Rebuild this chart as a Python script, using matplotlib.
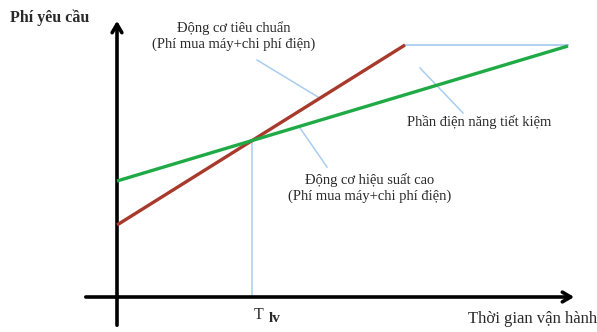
import matplotlib
matplotlib.use("Agg")
import matplotlib.pyplot as plt

# Data (schematic units; origin at axes crossing)
std_x = [0, 288]          # standard motor: purchase + electricity cost
std_y = [72, 252]
eff_x = [0, 451]          # high-efficiency motor
eff_y = [116, 251]
saving_x = [288, 451]     # energy saving gap
saving_y = [252, 252]
t_lv = 135                # break-even time
t_lv_y = 156

labels = {
    "ylabel": "Phí yêu cầu",
    "xlabel": "Thời gian vận hành",
    "std": "Động cơ tiêu chuẩn\n(Phí mua máy+chi phí điện)",
    "eff": "Động cơ hiệu suất cao\n(Phí mua máy+chi phí điện)",
    "save": "Phần điện năng tiết kiệm",
    "tlv": "T",
    "tlv_sub": "lv",
}

fig = plt.figure(figsize=(5.97, 3.32), dpi=100)
ax = fig.add_axes([0, 0, 1, 1])
ax.set_xlim(-117, 480)
ax.set_ylim(-35, 297)
ax.axis("off")

serif = ["Liberation Serif", "DejaVu Serif"]
tcol = "#2a2a2a"
blue = "#a9cdf0"

# axes with arrows
ax.annotate("", xy=(0, 279), xytext=(0, -31),
            arrowprops=dict(arrowstyle="->,head_length=0.6,head_width=0.35", lw=2.6, color="black"))
ax.annotate("", xy=(460, 0), xytext=(-34, 0),
            arrowprops=dict(arrowstyle="->,head_length=0.6,head_width=0.35", lw=2.6, color="black"))

# guide lines
ax.plot(saving_x, saving_y, color=blue, lw=1.3, zorder=1)
ax.plot([t_lv, t_lv], [0, t_lv_y], color=blue, lw=1.1, zorder=1)

# cost lines
ax.plot(std_x, std_y, color="#a83a2c", lw=2.4, solid_capstyle="butt", zorder=3)
ax.plot(eff_x, eff_y, color="#1faa46", lw=2.4, solid_capstyle="butt", zorder=3)

# leader lines
ax.plot([140, 201], [237, 200], color=blue, lw=1.1, zorder=2)
ax.plot([303, 346], [229, 184], color=blue, lw=1.1, zorder=2)
ax.plot([183, 210], [169, 130], color=blue, lw=1.1, zorder=2)

# texts
ax.text(-107, 279, labels["ylabel"], family=serif, fontsize=11.5, fontweight="bold",
        color=tcol, ha="left", va="center")
ax.text(117, 261, labels["std"], family=serif, fontsize=10.5, color=tcol,
        ha="center", va="center", linespacing=1.3)
ax.text(253, 109, labels["eff"], family=serif, fontsize=10.5, color=tcol,
        ha="center", va="center", linespacing=1.3)
ax.text(362, 175, labels["save"], family=serif, fontsize=10.5, color=tcol,
        ha="center", va="center")
ax.text(t_lv + 7, -18, labels["tlv"], family=serif, fontsize=11.5, color=tcol,
        ha="center", va="center")
ax.text(t_lv + 23, -22, labels["tlv_sub"], family=serif, fontsize=11, fontweight="bold", color=tcol,
        ha="center", va="center")
ax.text(480, -22, labels["xlabel"], family=serif, fontsize=12, color=tcol,
        ha="right", va="center")

fig.savefig("out.png", dpi=100)
